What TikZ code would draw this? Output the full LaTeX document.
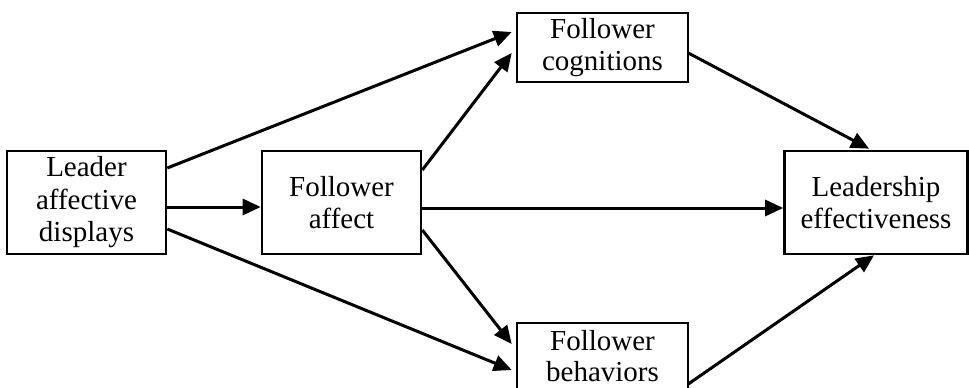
\documentclass[tikz,border=0pt]{standalone}
\usepackage{fontspec}
\setmainfont{Liberation Serif}
\usetikzlibrary{arrows.meta,calc}
\begin{document}
\begin{tikzpicture}[x=1pt,y=-1pt,
  box/.style={draw,line width=2.6pt,inner sep=0pt,align=center,
    font=\fontsize{29}{32.5}\selectfont},
  conn/.style={line width=3pt,-{Triangle[length=18pt,width=16pt]}}]
\useasboundingbox (0,0) rectangle (969,388);
\node[box,minimum width=159pt,minimum height=103pt] (lead) at (86.5,202.5) {Leader\\affective\\displays};
\node[box,minimum width=159pt,minimum height=103pt] (faff) at (341.5,202.5) {Follower\\affect};
\node[box,minimum width=171pt,minimum height=69pt] (cog) at (602.5,47.5) {Follower\\cognitions};
\node[box,minimum width=171pt,minimum height=66pt,font=\fontsize{29}{31.5}\selectfont] (beh) at (602.5,356) {Follower\\behaviors};
\node[box,minimum width=183pt,minimum height=103pt] (eff) at (876,202.5) {Leadership\\effectiveness};
\draw[conn] ($(lead.east)+(0,-34.5)$) -- ($(cog.west)+(-4,-15.5)$);
\draw[conn] ($(lead.east)+(0,4.5)$) -- ($(faff.west)+(0,4.5)$);
\draw[conn] ($(lead.east)+(0,26.5)$) -- ($(beh.west)+(-4,14)$);
\draw[conn] ($(faff.east)+(0,-32.5)$) -- ($(cog.west)+(-4,5.5)$);
\draw[conn] ($(faff.east)+(0,5.5)$) -- ($(eff.west)+(0,5.5)$);
\draw[conn] ($(faff.east)+(0,27.5)$) -- ($(beh.west)+(-4,-12)$);
\draw[conn] ($(cog.east)+(-1,5.5)$) -- ($(eff.north)+(-7,-1)$);
\draw[conn] ($(beh.east)+(-1,28)$) -- ($(eff.south)+(-2,0)$);
\end{tikzpicture}
\end{document}
